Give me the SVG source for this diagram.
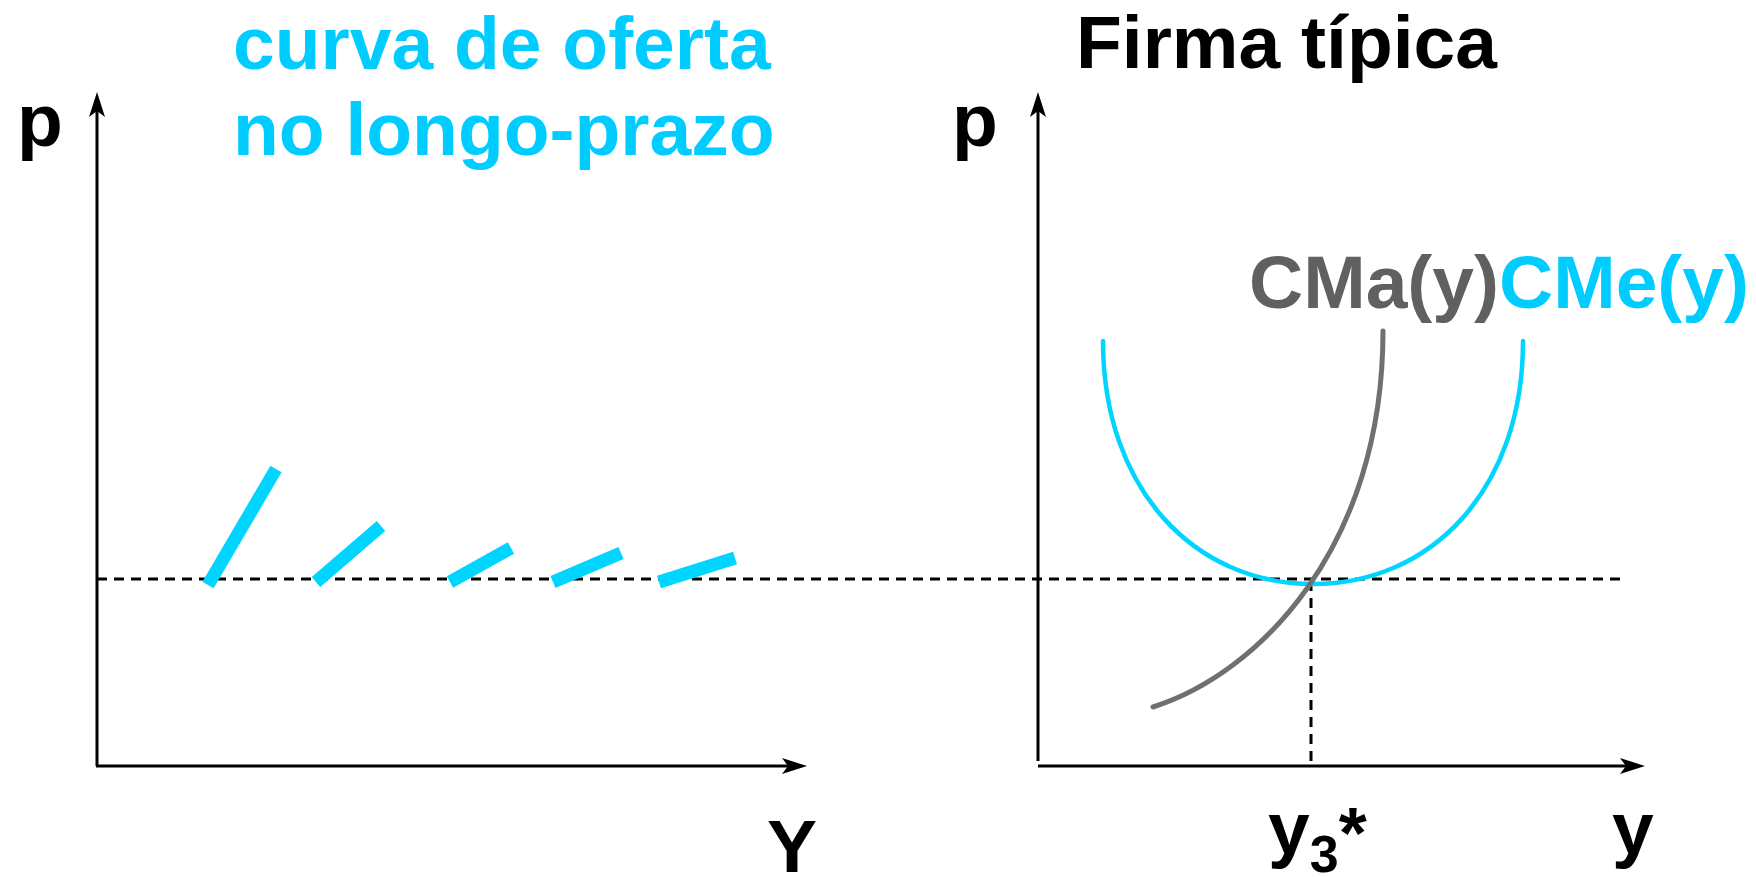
<svg xmlns="http://www.w3.org/2000/svg" width="1756" height="877" viewBox="0 0 1756 877">
  <style>
    .lbl { font-family: "Liberation Sans", Arial, sans-serif; font-weight: bold; font-size: 75px; }
    .blk { fill: #000; }
    .cyan { fill: #00CCFF; }
    .gray { fill: #606060; }
    .axis { stroke: #000; stroke-width: 3; fill: none; }
    .dash { stroke: #000; stroke-width: 3; stroke-dasharray: 10 7; fill: none; }
    .seg { stroke: #00D5FF; stroke-width: 13; stroke-linecap: butt; fill: none; }
  </style>
  <defs>
    <marker id="arr" viewBox="0 0 25 16" refX="15" refY="8" markerWidth="25" markerHeight="16" markerUnits="userSpaceOnUse" orient="auto">
      <path d="M0,0 L25,8 L0,16 L6,8 Z" fill="#000"/>
    </marker>
  </defs>
  <rect width="1756" height="877" fill="#fff"/>

  <g id="titles">
    <text class="lbl cyan" x="233" y="69">curva de oferta</text>
    <text class="lbl cyan" x="233" y="155">no longo-prazo</text>
    <text class="lbl blk" x="1076" y="68">Firma típica</text>
  </g>

  <g id="connectors">
    <line class="axis" x1="97" y1="766" x2="97" y2="102" marker-end="url(#arr)"/>
    <line class="axis" x1="96" y1="766" x2="797" y2="766" marker-end="url(#arr)"/>
    <line class="axis" x1="1038" y1="761" x2="1038" y2="102" marker-end="url(#arr)"/>
    <line class="axis" x1="1038" y1="766" x2="1635" y2="766" marker-end="url(#arr)"/>
    <line class="dash" x1="97" y1="579" x2="1626" y2="579"/>
    <line class="dash" x1="1311" y1="581" x2="1311" y2="765"/>
  </g>

  <g id="long-run-supply">
    <line class="seg" x1="208" y1="585" x2="276" y2="469"/>
    <line class="seg" x1="316" y1="582" x2="381" y2="526"/>
    <line class="seg" x1="450" y1="582" x2="511" y2="548"/>
    <line class="seg" x1="553" y1="582" x2="621" y2="553"/>
    <line class="seg" x1="659" y1="582" x2="735" y2="558"/>
  </g>

  <g id="cme-curve">
    <path d="M1103,341 C1103,490 1195,584 1313,584 C1431,584 1523,490 1523,341" fill="none" stroke="#00D5FF" stroke-width="4.5" stroke-linecap="round"/>
  </g>
  <g id="cma-curve">
    <path d="M1153,707 C1258,674 1383,548 1383,331" fill="none" stroke="#707070" stroke-width="5" stroke-linecap="round"/>
  </g>

  <g id="labels">
    <text class="lbl blk" x="17" y="146">p</text>
    <text class="lbl blk" x="952" y="146">p</text>
    <text class="lbl blk" x="767" y="872">Y</text>
    <text class="lbl blk" x="1612" y="854">y</text>
    <text class="lbl blk" x="1268" y="854">y<tspan font-size="52" dy="18">3</tspan><tspan font-size="72" dy="-14">*</tspan></text>
    <text class="lbl gray" x="1249" y="308">CMa(y)</text>
    <text class="lbl cyan" x="1499" y="308">CMe(y)</text>
  </g>
</svg>
